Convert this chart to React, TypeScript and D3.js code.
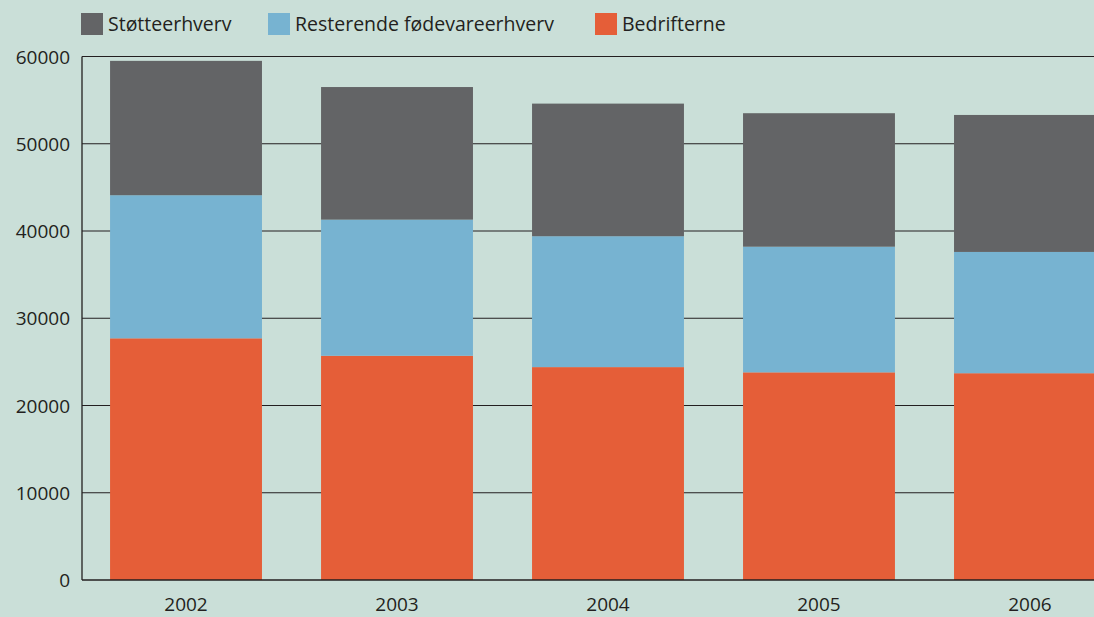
import * as d3 from "d3";

const years = ["2002", "2003", "2004", "2005", "2006"];
const bedrifterne = [27700, 25700, 24400, 23800, 23700];
const resterende = [16400, 15600, 15000, 14400, 13900];
const stotte = [15400, 15200, 15200, 15300, 15700];
const yTicks = [0, 10000, 20000, 30000, 40000, 50000, 60000];

const seriesNames = ["Bedrifterne", "Resterende fødevareerhverv", "Støtteerhverv"];
const seriesColors = ["#e55e38", "#77b3d1", "#636466"];
const legendOrder = [2, 1, 0];

const W = 1094, H = 617;
const BG = "#cadfd8";
const INK = "#231f20";
const FONT = "'Open Sans', 'Noto Sans', sans-serif";

export default function App() {
  const left = 82, bottom = 580, top = 56.5;
  const x = d3.scaleBand<string>().domain(years).range([left, 1134]).paddingInner(0.28).paddingOuter(0.133);
  const y = d3.scaleLinear().domain([0, 60000]).range([bottom, top]);

  const rows = years.map((yr, i) => ({ year: yr, s0: bedrifterne[i], s1: resterende[i], s2: stotte[i] }));
  const stack = d3.stack<any>().keys(["s0", "s1", "s2"])(rows);

  const legendX = [81, 268, 595];

  return (
    <svg width={W} height={H} style={{ display: "block", position: "absolute", left: 0, top: 0 }} fontFamily={FONT}>
      <rect x={0} y={0} width={W} height={H} fill={BG} />
      {/* gridlines */}
      {yTicks.slice(1).map((t) => (
        <line key={t} x1={left} x2={W} y1={y(t)} y2={y(t)} stroke={INK} strokeWidth={1.2} />
      ))}
      {/* bars */}
      {stack.map((layer, si) => (
        <g key={si} fill={seriesColors[si]}>
          {layer.map((d, i) => (
            <rect key={i} x={x(years[i])} y={y(d[1])} width={x.bandwidth()} height={y(d[0]) - y(d[1])} />
          ))}
        </g>
      ))}
      {/* axes */}
      <line x1={left} x2={left} y1={top} y2={bottom} stroke={INK} strokeWidth={1.3} />
      <line x1={left} x2={W} y1={bottom} y2={bottom} stroke={INK} strokeWidth={1.3} />
      {yTicks.map((t) => (
        <text key={t} x={70} y={y(t) + 7} textAnchor="end" fontSize={19} fill={INK}>
          {t}
        </text>
      ))}
      {years.map((yr) => (
        <text key={yr} x={(x(yr) as number) + x.bandwidth() / 2} y={611} textAnchor="middle" fontSize={19} fill={INK}>
          {yr}
        </text>
      ))}
      {/* legend */}
      {legendOrder.map((si, k) => (
        <g key={si} transform={`translate(${legendX[k]},13)`}>
          <rect x={0} y={0} width={22} height={22} fill={seriesColors[si]} />
          <text x={27} y={18} fontSize={19.5} fill={INK}>
            {seriesNames[si]}
          </text>
        </g>
      ))}
    </svg>
  );
}
